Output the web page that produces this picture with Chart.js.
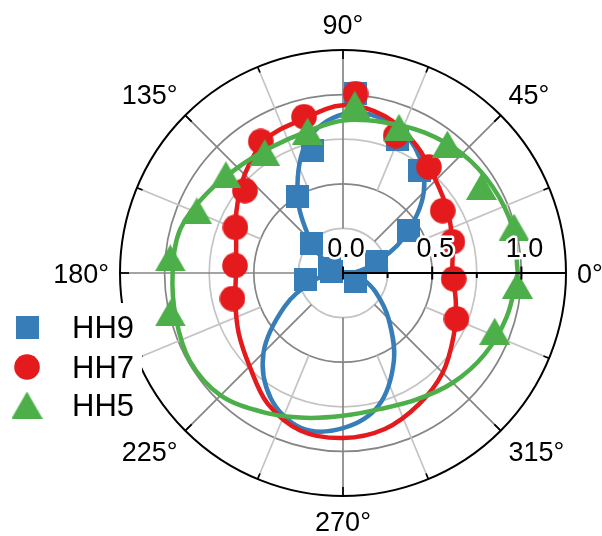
<!DOCTYPE html>
<html>
<head>
<meta charset="utf-8">
<script src="https://cdn.jsdelivr.net/npm/chart.js@4.4.1/dist/chart.umd.min.js"></script>
<style>
html, body { margin: 0; padding: 0; background: #fff; }
#wrap { width: 602px; height: 536px; position: relative; }
</style>
</head>
<body>
<div id="wrap"><canvas id="myChart"></canvas></div>
<script>
// measured points (angle in degrees, radius)
var hh9Theta = [-35, 18, 33, 53, 68, 86, 104, 121, 137, 160, 172, 189];
var hh9R     = [0.085, 0.2, 0.435, 0.716, 0.81, 1.01, 0.706, 0.5, 0.24, 0.08, 0.065, 0.215];

var hh7Theta = [-22, -3, 16, 32, 51, 69, 86, 104, 122, 140, 157, 176, 193];
var hh7R     = [0.686, 0.621, 0.638, 0.659, 0.765, 0.825, 1.008, 0.903, 0.87, 0.718, 0.655, 0.607, 0.636];

var hh5Theta = [-21, -4, 15, 32, 51, 69, 86, 104, 123, 140, 157, 175, 193];
var hh5R     = [0.911, 0.98, 0.993, 0.915, 0.93, 0.875, 0.948, 0.82, 0.805, 0.857, 0.89, 0.972, 0.993];

// fitted curves, every 15 deg
var fitTheta = [0, 15, 30, 45, 60, 75, 90, 105, 120, 135, 150, 165, 180, 195, 210, 225, 240, 255, 270, 285, 300, 315, 330, 345, 360];
var fit9R = [0.06, 0.17, 0.39, 0.64, 0.81, 0.89, 0.89, 0.77, 0.51, 0.26, 0.11, 0.06, 0.07, 0.18, 0.38, 0.63, 0.81, 0.9, 0.87, 0.77, 0.57, 0.36, 0.21, 0.11, 0.06];
var fit7R = [0.612, 0.635, 0.68, 0.735, 0.825, 0.91, 0.94, 0.89, 0.865, 0.78, 0.69, 0.62, 0.6, 0.625, 0.675, 0.74, 0.845, 0.915, 0.925, 0.905, 0.85, 0.79, 0.715, 0.655, 0.612];
var fit5R = [0.98, 0.984, 0.968, 0.945, 0.91, 0.875, 0.855, 0.818, 0.812, 0.835, 0.885, 0.945, 0.955, 0.97, 0.99, 0.97, 0.9, 0.84, 0.8, 0.79, 0.82, 0.87, 0.915, 0.95, 0.98];

var seriesNames = ["HH9", "HH7", "HH5"];
var seriesColors = ["#377eb8", "#e41a1c", "#4daf4a"];

var rMax = 1.25;
var rGrid = [0.25, 0.5, 0.75, 1.0];
var rTickLabels = ["0.0", "0.5", "1.0"];
var rTickValues = [0, 0.5, 1.0];
var angleLabels = [0, 45, 90, 135, 180, 225, 270, 315];

function toXY(th, r) {
    var out = [];
    for (var i = 0; i < th.length; i++) {
        var a = th[i] * Math.PI / 180;
        out.push({ x: r[i] * Math.cos(a), y: r[i] * Math.sin(a) });
    }
    return out;
}

//marker images
function makeMarker(kind, color) {
    var c = document.createElement("canvas");
    var g;
    if (kind == "square") {
        c.width = 23; c.height = 23;
        g = c.getContext("2d");
        g.fillStyle = color;
        g.fillRect(0, 0, 23, 23);
    } else if (kind == "circle") {
        c.width = 26; c.height = 26;
        g = c.getContext("2d");
        g.fillStyle = color;
        g.beginPath();
        g.arc(13, 13, 12.8, 0, Math.PI * 2);
        g.fill();
    } else {
        c.width = 31; c.height = 27;
        g = c.getContext("2d");
        g.fillStyle = color;
        g.beginPath();
        g.moveTo(15.5, 0);
        g.lineTo(31, 27);
        g.lineTo(0, 27);
        g.closePath();
        g.fill();
    }
    return c;
}

var markers = [
    makeMarker("square", seriesColors[0]),
    makeMarker("circle", seriesColors[1]),
    makeMarker("triangle", seriesColors[2])
];

var FONT = '"Liberation Sans", Arial, sans-serif';

var polarPlugin = {
    id: "polarGrid",
    beforeDatasetsDraw: function(chart) {
        var ctx = chart.ctx;
        var sx = chart.scales.x, sy = chart.scales.y;
        var cx = sx.getPixelForValue(0), cy = sy.getPixelForValue(0);
        var unit = sx.getPixelForValue(1) - cx;
        ctx.save();
        // circles
        rGrid.forEach(function(r, i) {
            ctx.beginPath();
            ctx.arc(cx, cy, r * unit, 0, Math.PI * 2);
            ctx.strokeStyle = (i % 2 == 0) ? "#c4c4c4" : "#858585";
            ctx.lineWidth = 1.7;
            ctx.stroke();
        });
        // spokes
        for (var k = 0; k < 16; k++) {
            var a = k * 22.5 * Math.PI / 180;
            var major = (k % 2 == 0);
            var r0 = major ? 0.25 : 0.5;
            ctx.beginPath();
            ctx.moveTo(cx + r0 * unit * Math.cos(a), cy - r0 * unit * Math.sin(a));
            ctx.lineTo(cx + rMax * unit * Math.cos(a), cy - rMax * unit * Math.sin(a));
            ctx.strokeStyle = major ? "#858585" : "#c4c4c4";
            ctx.lineWidth = 1.7;
            ctx.stroke();
        }
        ctx.restore();
    },
    afterDatasetsDraw: function(chart) {
        var ctx = chart.ctx;
        var sx = chart.scales.x, sy = chart.scales.y;
        var cx = sx.getPixelForValue(0), cy = sy.getPixelForValue(0);
        var unit = sx.getPixelForValue(1) - cx;
        var R = rMax * unit;
        ctx.save();
        ctx.strokeStyle = "#000";
        ctx.lineCap = "butt";

        // radial axis along 0 deg
        ctx.lineWidth = 2;
        ctx.beginPath();
        ctx.moveTo(cx, cy);
        ctx.lineTo(cx + R, cy);
        ctx.stroke();
        for (var t = 0; t <= 1.0001; t += 0.25) {
            var px = sx.getPixelForValue(t);
            ctx.beginPath();
            if (Math.abs(t * 2 - Math.round(t * 2)) < 0.001) {
                ctx.moveTo(px, cy - 6.5);
                ctx.lineTo(px, cy + 6.5);
            } else {
                ctx.moveTo(px, cy);
                ctx.lineTo(px, cy + 5);
            }
            ctx.stroke();
        }

        // outer circle + ticks
        ctx.beginPath();
        ctx.arc(cx, cy, R, 0, Math.PI * 2);
        ctx.lineWidth = 2;
        ctx.stroke();
        for (var k = 0; k < 16; k++) {
            var a = k * 22.5 * Math.PI / 180;
            var len = (k % 2 == 0) ? 9 : 6;
            ctx.beginPath();
            ctx.moveTo(cx + R * Math.cos(a), cy - R * Math.sin(a));
            ctx.lineTo(cx + (R - len) * Math.cos(a), cy - (R - len) * Math.sin(a));
            ctx.lineWidth = 1.7;
            ctx.stroke();
        }

        // legend
        ctx.fillStyle = "#fff";
        ctx.fillRect(0, 303, 142, 137);
        var rows = [327, 367, 405];
        ctx.font = "31px " + FONT;
        ctx.textAlign = "left";
        ctx.textBaseline = "alphabetic";
        for (var i = 0; i < seriesNames.length; i++) {
            var m = markers[i];
            ctx.drawImage(m, 27 - m.width / 2, rows[i] - m.height / 2);
            ctx.fillStyle = "#000";
            ctx.fillText(seriesNames[i], 72, rows[i] + 11.2);
        }

        // angle labels
        ctx.font = "27px " + FONT;
        var cap = 27 * 0.716;
        angleLabels.forEach(function(deg) {
            var a = deg * Math.PI / 180;
            var c = Math.cos(a), s = Math.sin(a);
            var ax = cx + (R + 11) * c;
            var ay = cy - (R + 16) * s;
            ctx.textAlign = c > 0.01 ? "left" : (c < -0.01 ? "right" : "center");
            var base;
            if (s > 0.01) base = ay;
            else if (s < -0.01) base = ay + cap;
            else base = cy + cap / 2;
            ctx.fillStyle = "#000";
            ctx.fillText(deg + "\u00b0", ax, base);
        });

        // radial labels with white halo
        ctx.textAlign = "center";
        ctx.lineJoin = "round";
        for (var j = 0; j < rTickLabels.length; j++) {
            var lx = sx.getPixelForValue(rTickValues[j]) + 3;
            var ly = cy - 16;
            ctx.strokeStyle = "#fff";
            ctx.lineWidth = 5;
            ctx.strokeText(rTickLabels[j], lx, ly);
            ctx.fillStyle = "#000";
            ctx.fillText(rTickLabels[j], lx, ly);
        }
        ctx.restore();
    }
};

function lineSet(th, r, color, order) {
    return {
        label: "fit",
        data: toXY(th, r),
        showLine: true,
        borderColor: color,
        borderWidth: 4.5,
        borderCapStyle: "round",
        borderJoinStyle: "round",
        pointRadius: 0,
        tension: 0.35,
        fill: false,
        order: order
    };
}

function markSet(name, th, r, marker, order) {
    return {
        label: name,
        data: toXY(th, r),
        showLine: false,
        pointStyle: marker,
        pointRadius: 12,
        order: order
    };
}

const ctx = document.getElementById("myChart").getContext("2d");

var myjson = {
    type: "scatter",
    data: {
        datasets: [
            lineSet(fitTheta, fit5R, seriesColors[2], 0),
            markSet(seriesNames[2], hh5Theta, hh5R, markers[2], 1),
            lineSet(fitTheta, fit7R, seriesColors[1], 2),
            markSet(seriesNames[1], hh7Theta, hh7R, markers[1], 3),
            lineSet(fitTheta, fit9R, seriesColors[0], 4),
            markSet(seriesNames[0], hh9Theta, hh9R, markers[0], 5)
        ]
    },
    options: {
        responsive: true,
        maintainAspectRatio: false,
        animation: false,
        layout: { padding: { left: 120, right: 36, top: 50, bottom: 40 } },
        scales: {
            x: { type: "linear", min: -rMax, max: rMax, display: false },
            y: { type: "linear", min: -rMax, max: rMax, display: false }
        },
        plugins: {
            legend: { display: false },
            tooltip: { enabled: false }
        }
    },
    plugins: [polarPlugin]
};

const myChart = new Chart(ctx, myjson);
</script>
</body>
</html>
